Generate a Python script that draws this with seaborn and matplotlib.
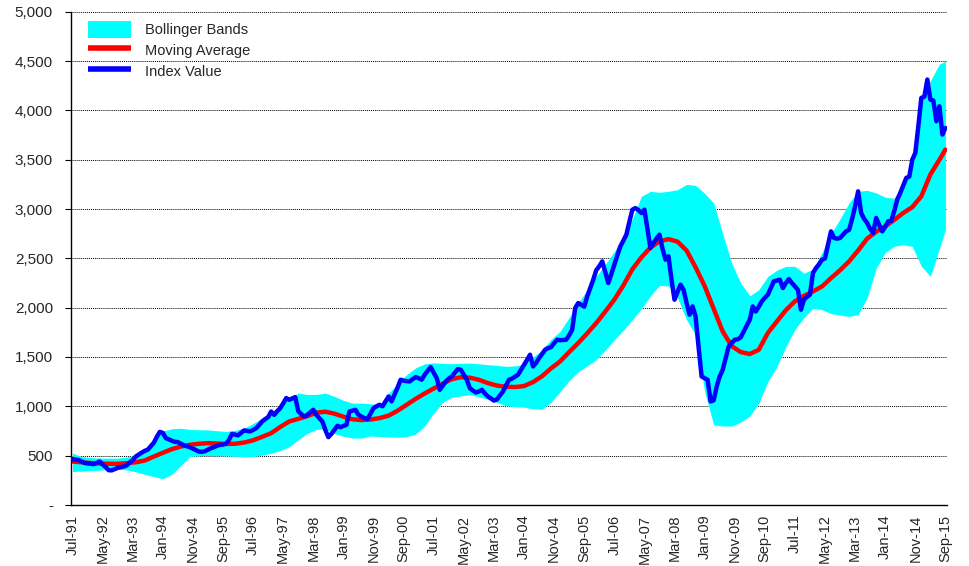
import numpy as np
import pandas as pd
import matplotlib
matplotlib.use("Agg")
import matplotlib.pyplot as plt
import seaborn as sns
from matplotlib.patches import Patch
from matplotlib.lines import Line2D
from matplotlib.ticker import FuncFormatter

# monthly index values, Jul-91 .. Sep-15 (one row = Jul..Jun)
index_value = [
    464, 460, 455, 440, 425, 420, 418, 413, 425, 440, 410, 385,
    352, 350, 362, 375, 382, 390, 400, 430, 455, 490, 510, 530,
    548, 560, 595, 630, 690, 740, 730, 677, 665, 650, 640, 636,
    620, 605, 595, 585, 570, 555, 541, 538, 545, 560, 575, 585,
    600, 609, 612, 620, 660, 720, 712, 705, 730, 755, 750, 745,
    760, 778, 810, 846, 870, 890, 947, 913, 950, 981, 1030, 1083,
    1066, 1080, 1093, 950, 920, 896, 913, 940, 964, 913, 880, 846,
    760, 687, 720, 761, 802, 788, 800, 812, 947, 955, 964, 913,
    895, 880, 870, 925, 981, 1000, 1015, 1000, 1050, 1099, 1050, 1120,
    1190, 1269, 1260, 1255, 1252, 1275, 1296, 1285, 1270, 1320, 1360, 1398,
    1340, 1286, 1167, 1210, 1252, 1280, 1302, 1340, 1377, 1370, 1320, 1269,
    1184, 1160, 1140, 1150, 1167, 1130, 1099, 1080, 1058, 1070, 1110, 1150,
    1210, 1269, 1280, 1300, 1320, 1370, 1421, 1470, 1523, 1404, 1440, 1489,
    1530, 1573, 1590, 1600, 1640, 1675, 1670, 1672, 1675, 1720, 1776, 1996,
    2047, 2030, 2010, 2114, 2200, 2284, 2380, 2420, 2470, 2360, 2250, 2340,
    2436, 2530, 2622, 2680, 2741, 2870, 2994, 3010, 2990, 2960, 2994, 2800,
    2605, 2656, 2700, 2741, 2600, 2487, 2521, 2284, 2081, 2160, 2233, 2182,
    2050, 1929, 2013, 1911, 1600, 1302, 1285, 1269, 1049, 1060, 1200, 1302,
    1370, 1490, 1607, 1640, 1675, 1680, 1700, 1759, 1820, 1878, 2013, 1962,
    2010, 2064, 2100, 2132, 2200, 2267, 2275, 2284, 2199, 2250, 2291, 2250,
    2216, 2182, 1979, 2081, 2110, 2132, 2352, 2402, 2440, 2487, 2500, 2640,
    2774, 2707, 2700, 2707, 2740, 2774, 2790, 2900, 3028, 3180, 2961, 2900,
    2859, 2800, 2758, 2910, 2840, 2774, 2820, 2876, 2880, 2980, 3096, 3164,
    3240, 3316, 3330, 3502, 3570, 3840, 4128, 4140, 4314, 4111, 4100, 3891,
    4043, 3756, 3823,
]

# moving average and bands read every third month (last point Sep-15)
band_month = list(range(0, 289, 3)) + [290]
moving_avg = [
    440, 432, 425, 420, 417, 416, 423, 432, 450, 490, 528, 565,
    592, 609, 620, 626, 622, 618, 620, 632, 655, 690, 727, 790,
    846, 872, 900, 935, 945, 925, 895, 868, 860, 866, 880, 905,
    955, 1015, 1075, 1130, 1180, 1230, 1275, 1295, 1290, 1269, 1235, 1210,
    1198, 1195, 1205, 1245, 1305, 1385, 1455, 1550, 1641, 1740, 1844, 1960,
    2081, 2225, 2390, 2510, 2610, 2673, 2695, 2670, 2580, 2410, 2220, 1990,
    1760, 1610, 1550, 1530, 1573, 1743, 1860, 1975, 2065, 2120, 2165, 2215,
    2300, 2380, 2470, 2580, 2700, 2770, 2825, 2890, 2961, 3020, 3130, 3350,
    3500, 3603,
]
upper_band = [
    525, 490, 480, 474, 474, 474, 485, 505, 558, 670, 750, 772,
    778, 765, 762, 760, 752, 745, 755, 778, 825, 880, 940, 1000,
    1080, 1134, 1120, 1120, 1134, 1100, 1060, 1032, 1032, 1025, 1015, 1130,
    1230, 1320, 1390, 1430, 1440, 1435, 1431, 1435, 1438, 1430, 1422, 1415,
    1405, 1410, 1420, 1500, 1570, 1680, 1760, 1900, 2047, 2180, 2318, 2440,
    2571, 2720, 2900, 3130, 3180, 3170, 3180, 3197, 3250, 3240, 3160, 3062,
    2750, 2450, 2250, 2120, 2182, 2318, 2380, 2419, 2419, 2350, 2390, 2560,
    2750, 2900, 3062, 3180, 3190, 3164, 3120, 3110, 3220, 3500, 4100, 4300,
    4470, 4500,
]
lower_band = [
    338, 342, 348, 352, 358, 362, 355, 335, 310, 287, 265, 310,
    400, 490, 498, 500, 498, 496, 492, 486, 490, 505, 524, 550,
    590, 660, 725, 765, 770, 725, 695, 677, 677, 700, 692, 690,
    686, 690, 720, 800, 930, 1040, 1090, 1105, 1117, 1095, 1070, 1040,
    1005, 995, 991, 975, 970, 1040, 1150, 1260, 1350, 1410, 1472, 1570,
    1675, 1770, 1880, 1990, 2120, 2225, 2220, 2100, 1878, 1720, 1150, 812,
    800, 800, 840, 900, 1032, 1250, 1400, 1607, 1780, 1900, 1996, 1980,
    1940, 1925, 1911, 1930, 2100, 2400, 2560, 2622, 2640, 2620, 2420, 2318,
    2600, 2791,
]

tick_labels = [
    "Jul-91", "May-92", "Mar-93", "Jan-94", "Nov-94", "Sep-95", "Jul-96",
    "May-97", "Mar-98", "Jan-99", "Nov-99", "Sep-00", "Jul-01", "May-02",
    "Mar-03", "Jan-04", "Nov-04", "Sep-05", "Jul-06", "May-07", "Mar-08",
    "Jan-09", "Nov-09", "Sep-10", "Jul-11", "May-12", "Mar-13", "Jan-14",
    "Nov-14", "Sep-15",
]

df = pd.DataFrame({"month": np.arange(len(index_value)), "index": index_value})
bands = pd.DataFrame({"month": band_month, "ma": moving_avg,
                      "upper": upper_band, "lower": lower_band})

sns.set_theme(style="white")
plt.rcParams["font.family"] = ["Liberation Sans", "DejaVu Sans"]

fig = plt.figure(figsize=(9.7, 5.66), dpi=100)
ax = fig.add_axes([0.0732, 0.108, 0.903, 0.871])

ax.fill_between(bands["month"], bands["lower"], bands["upper"],
                color="#00FFFF", linewidth=0, zorder=1)
sns.lineplot(data=bands, x="month", y="ma", color="#FF0000",
             linewidth=3.2, ax=ax, zorder=2)
sns.lineplot(data=df, x="month", y="index", color="#0000FF",
             linewidth=3.2, ax=ax, zorder=3)

ax.set_xlim(-0.5, 290.5)
ax.set_ylim(0, 5000)
ax.set_yticks(np.arange(0, 5001, 500))
ax.yaxis.set_major_formatter(FuncFormatter(lambda v, p: "-" if v == 0 else f"{int(v):,}"))
ax.set_xticks(np.arange(0, 291, 10))
ax.set_xticklabels(tick_labels, rotation=90)
ax.set_xlabel("")
ax.set_ylabel("")

ax.grid(axis="y", color="black", linestyle=(0, (1, 1)), linewidth=0.7)
ax.set_axisbelow(True)
for side in ["top", "right"]:
    ax.spines[side].set_visible(False)
for side in ["left", "bottom"]:
    ax.spines[side].set_color("black")
    ax.spines[side].set_linewidth(1.0)
ax.tick_params(axis="y", length=4, width=0.8, color="black", labelsize=11, pad=9, left=True)
ax.tick_params(axis="x", length=0, labelsize=10.5, pad=7)

handles = [
    Patch(facecolor="#00FFFF", edgecolor="none", label="Bollinger Bands"),
    Line2D([0], [0], color="#FF0000", linewidth=4, solid_capstyle="butt", label="Moving Average"),
    Line2D([0], [0], color="#0000FF", linewidth=4, solid_capstyle="butt", label="Index Value"),
]
ax.legend(handles=handles, loc="upper left", bbox_to_anchor=(0.009, 1.0),
          frameon=False, fontsize=10.5, handlelength=2.95, handleheight=1.5,
          handletextpad=0.95, labelspacing=0.2, borderaxespad=0.2)

fig.savefig("out.png", dpi=100)
